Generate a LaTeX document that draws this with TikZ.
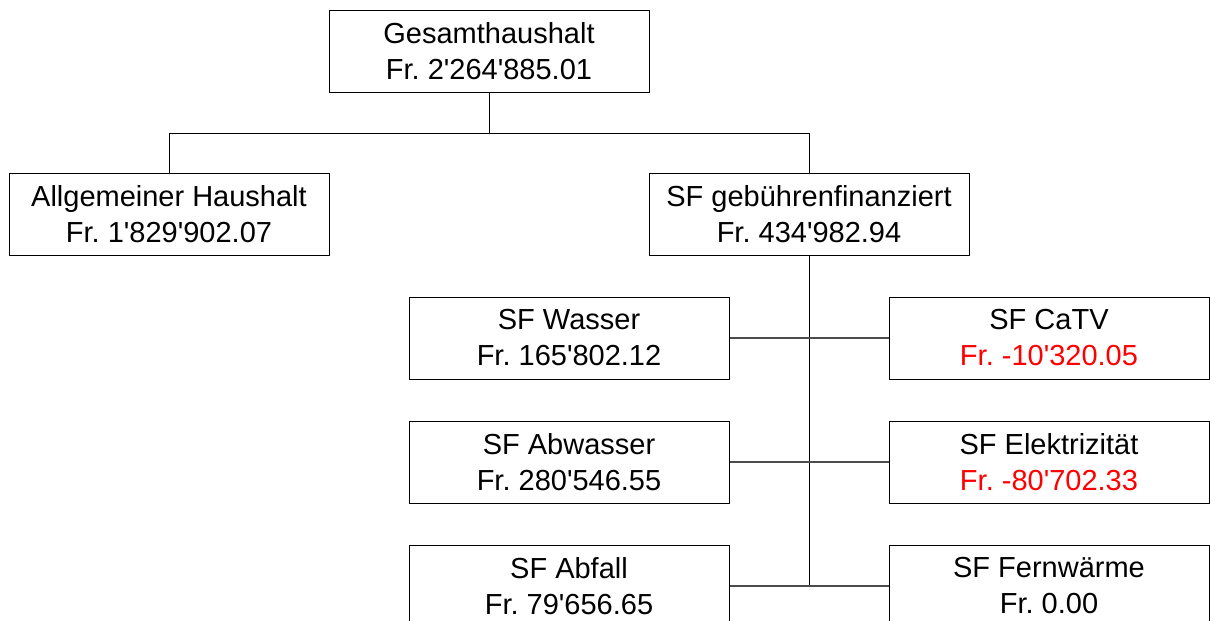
\documentclass[tikz,border=0pt]{standalone}
\usepackage{fontspec}
\setmainfont{Liberation Sans}[Ligatures=TeXOff]
\usetikzlibrary{calc}
\definecolor{minus}{rgb}{1,0,0}
\definecolor{linie}{rgb}{0.3,0.3,0.3}
\tikzset{ %Kästchen und Linien
    fonds/.style={draw=black, line width=1pt, minimum width=320, minimum height=82,
        inner sep=0pt, align=center, font=\fontsize{29}{36}\selectfont\frenchspacing},
    ast/.style={draw=black, line width=1pt},
    zweig/.style={draw=linie, line width=1.2pt},
}
\begin{document}
\begin{tikzpicture}[x=1pt,y=-1pt]
			\useasboundingbox (0,0) rectangle (1210,621);
			\node[fonds] (ges) at (489,51.5) {Gesamthaushalt\\Fr. 2'264'885.01};
			\node[fonds] (allg) at (169,214.5) {Allgemeiner Haushalt\\Fr. 1'829'902.07};
			\node[fonds] (sf) at (809,214.5) {SF gebührenfinanziert\\Fr. 434'982.94};
			\node[fonds] (wasser) at (569,338) {SF Wasser\\Fr. 165'802.12};
			\node[fonds] (catv) at (1049,338) {SF CaTV\\\textcolor{minus}{Fr. -10'320.05}};
			\node[fonds] (abwasser) at (569,462) {SF Abwasser\\Fr. 280'546.55};
			\node[fonds] (elektro) at (1049,462) {SF Elektrizität\\\textcolor{minus}{Fr. -80'702.33}};
			\node[fonds] (abfall) at (569,586) {SF Abfall\\Fr. 79'656.65};
			\node[fonds] (fern) at (1049,586) {SF Fernwärme\\Fr. 0.00};
			\coordinate (teil) at ($(ges.south)!0.5!(ges.south |- allg.north)$);
			\draw[ast] (ges.south) -- (teil) -| (allg.north);
			\draw[ast] (teil) -| (sf.north);
			\draw[ast] (sf.south) -- (sf.south |- fern.west);
			\foreach \l/\r in {wasser/catv, abwasser/elektro, abfall/fern}{
				\draw[zweig] (\l.east) -- (\r.west);
			}
		\end{tikzpicture}
\end{document}
